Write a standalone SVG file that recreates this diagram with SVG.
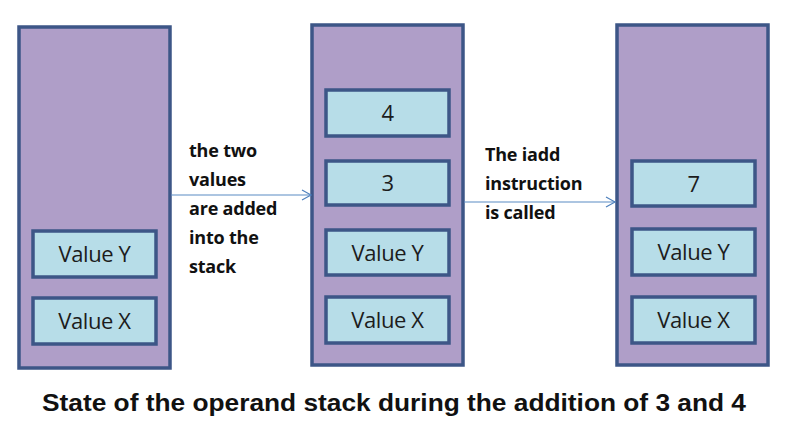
<svg xmlns="http://www.w3.org/2000/svg" width="794" height="429" viewBox="0 0 794 429">
<defs>
<marker id="arr" markerWidth="12" markerHeight="12" refX="10" refY="6" orient="auto" markerUnits="userSpaceOnUse">
<path d="M1,1 L10,6 L1,11" fill="none" stroke="#4f81bd" stroke-width="1.2"/>
</marker>
</defs>
<style>
.stack{fill:#af9ec8;stroke:#3d5687;stroke-width:3.5}
.box{fill:#b7dde8;stroke:#3d5687;stroke-width:3.5}
.bt{font-family:"Open Sans","Liberation Sans",sans-serif;font-size:22px;fill:#1c1c1c;text-anchor:middle;letter-spacing:-0.4px}
.lbl{font-family:"Open Sans","Liberation Sans",sans-serif;font-weight:bold;font-size:18px;fill:#111;letter-spacing:-0.2px}
.conn{stroke:#5b8cc4;stroke-width:1.2;fill:none}
.cap{font-family:"Liberation Sans",sans-serif;font-weight:bold;font-size:24px;fill:#111}
</style>
<rect width="794" height="429" fill="#fff"/>
<g id="stack1">
<rect class="stack" x="19" y="27" width="151" height="341"/>
<g id="s1-y"><rect class="box" x="33" y="231" width="123" height="46"/><text class="bt" x="94.5" y="262">Value Y</text></g>
<g id="s1-x"><rect class="box" x="33" y="298" width="123" height="46"/><text class="bt" x="94.5" y="329">Value X</text></g>
</g>
<g id="stack2">
<rect class="stack" x="312" y="25" width="151" height="340"/>
<g id="s2-4"><rect class="box" x="326" y="90" width="123" height="46"/><text class="bt" x="387.5" y="121">4</text></g>
<g id="s2-3"><rect class="box" x="326" y="161" width="123" height="44"/><text class="bt" x="387.5" y="191">3</text></g>
<g id="s2-y"><rect class="box" x="326" y="230" width="123" height="45"/><text class="bt" x="387.5" y="261">Value Y</text></g>
<g id="s2-x"><rect class="box" x="326" y="297" width="123" height="46"/><text class="bt" x="387.5" y="328">Value X</text></g>
</g>
<g id="stack3">
<rect class="stack" x="617" y="25" width="151" height="340"/>
<g id="s3-7"><rect class="box" x="632" y="161" width="123" height="45"/><text class="bt" x="693.5" y="192">7</text></g>
<g id="s3-y"><rect class="box" x="632" y="229" width="123" height="46"/><text class="bt" x="693.5" y="260">Value Y</text></g>
<g id="s3-x"><rect class="box" x="632" y="297" width="123" height="46"/><text class="bt" x="693.5" y="328">Value X</text></g>
</g>
<g id="connectors">
<line class="conn" x1="171" y1="195" x2="311" y2="195" marker-end="url(#arr)"/>
<line class="conn" x1="464" y1="202" x2="615" y2="202" marker-end="url(#arr)"/>
</g>
<g id="label1">
<text class="lbl" x="189" y="157">the two</text>
<text class="lbl" x="189" y="186">values</text>
<text class="lbl" x="189" y="215">are added</text>
<text class="lbl" x="189" y="244">into the</text>
<text class="lbl" x="189" y="273">stack</text>
</g>
<g id="label2">
<text class="lbl" x="485" y="161">The iadd</text>
<text class="lbl" x="485" y="190">instruction</text>
<text class="lbl" x="485" y="219">is called</text>
</g>
<text id="caption" class="cap" x="42" y="411" textLength="704" lengthAdjust="spacingAndGlyphs">State of the operand stack during the addition of 3 and 4</text>
</svg>
